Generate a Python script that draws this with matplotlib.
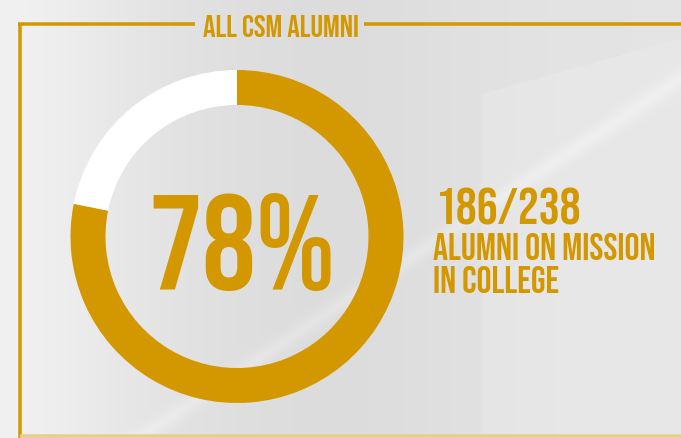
import numpy as np
import matplotlib
matplotlib.use("Agg")
import matplotlib.pyplot as plt

# ---- data ----
title = "ALL CSM ALUMNI"
categories = ["On mission", "Not on mission"]
counts = [186, 52]
total = 238
pct_label = "78%"
count_label = "186/238"
desc_lines = ["ALUMNI ON MISSION", "IN COLLEGE"]

GOLD = "#D39800"
W, H = 681, 439
FAM = ["Bebas Neue", "DejaVu Sans"]

fig = plt.figure(figsize=(W / 100, H / 100), dpi=100)

# background axes in pixel coordinates
bg = fig.add_axes([0, 0, 1, 1])
bg.axis("off")

yy, xx = np.mgrid[0:H, 0:W]
base = 0.895 + 0.05 * np.exp(-((xx) / 120.0) ** 2) - 0.03 * np.exp(-((xx - 330) / 160.0) ** 2)
d = (xx * 0.55 + yy * 0.83 - 440) / 8.0
base += 0.03 * np.exp(-d ** 2)
paper = (yy > 95 + (xx - 480) * -0.28) & (xx > 480) & (yy > 40)
base = np.where(paper, base + 0.015, base)
base = np.clip(base, 0, 1)
img = np.dstack([base, base, base])
bg.imshow(img, extent=[0, W, H, 0], aspect="auto", interpolation="bilinear")
bg.set_xlim(0, W)
bg.set_ylim(H, 0)

# frame lines
lw = 3.5 * 0.72
bg.plot([18, 195], [25, 25], color=GOLD, lw=lw, solid_capstyle="butt")
bg.plot([364, W], [25, 25], color=GOLD, lw=lw, solid_capstyle="butt")
bg.plot([20, 20], [25, H], color=GOLD, lw=lw, solid_capstyle="butt")
bg.plot([20, W], [437.5, 437.5], color="#E6CF8A", lw=lw, solid_capstyle="butt")

# title
bg.text(281, 37, title, color=GOLD, fontsize=22.5, family=FAM,
        ha="center", va="baseline")

# donut chart
cx, cy, R = 237, 237.5, 166.5
pax = fig.add_axes([(cx - R) / W, (H - cy - R) / H, 2 * R / W, 2 * R / H])
pax.pie(counts, colors=[GOLD, "white"], startangle=90, counterclock=False,
        radius=1.0, wedgeprops=dict(width=35 / R, linewidth=0))
pax.set_xlim(-1, 1)
pax.set_ylim(-1, 1)
pax.set_aspect("equal")
pax.axis("off")

# center percentage
bg.text(242, 290, pct_label, color=GOLD, fontsize=97, family=FAM,
        ha="center", va="baseline")

# right-hand labels
bg.text(436, 225, count_label, color=GOLD, fontsize=37.5, family=FAM,
        ha="left", va="baseline")
bg.text(433, 260, desc_lines[0], color=GOLD, fontsize=27, family=FAM,
        ha="left", va="baseline")
bg.text(433, 293.5, desc_lines[1], color=GOLD, fontsize=27, family=FAM,
        ha="left", va="baseline")

fig.savefig("out.png", dpi=100)
